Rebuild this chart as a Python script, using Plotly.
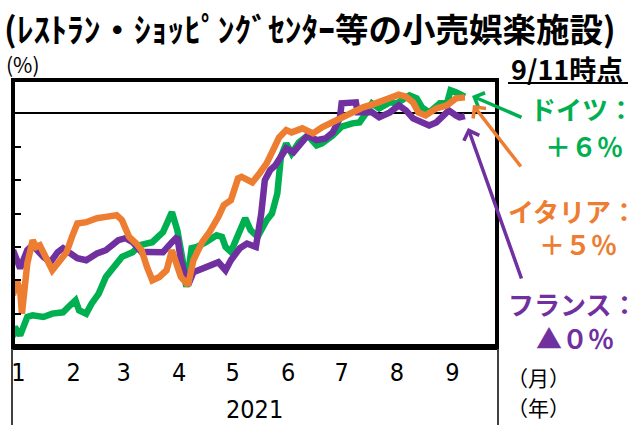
import plotly.graph_objects as go

# ---------------- data ----------------
de_dates = ["2021-01-01","2021-01-02","2021-01-05","2021-01-07","2021-01-09","2021-01-12","2021-01-18",
            "2021-01-23","2021-01-29","2021-02-02","2021-02-05","2021-02-07","2021-02-11","2021-02-14",
            "2021-02-18","2021-02-22","2021-02-26","2021-02-28","2021-03-03","2021-03-09","2021-03-13",
            "2021-03-20","2021-03-26","2021-03-31","2021-04-03","2021-04-06","2021-04-08","2021-04-11",
            "2021-04-14","2021-04-19","2021-04-25","2021-04-28","2021-04-30","2021-05-03","2021-05-08",
            "2021-05-11","2021-05-14","2021-05-18","2021-05-23","2021-05-26","2021-05-29","2021-05-31",
            "2021-06-03","2021-06-06","2021-06-10","2021-06-15","2021-06-20","2021-06-23","2021-06-29",
            "2021-07-04","2021-07-10","2021-07-14","2021-07-18","2021-07-21","2021-07-25","2021-07-31",
            "2021-08-04","2021-08-11","2021-08-15","2021-08-18","2021-08-22","2021-08-28","2021-09-01",
            "2021-09-03","2021-09-06","2021-09-09","2021-09-11"]
de_values = [-67,-64,-66.5,-63,-61,-60.5,-61,-60,-59.6,-57.5,-56,-59,-60,-57,-54,-49,-46,-44.6,-43,-41.6,
             -39.5,-38.6,-35.6,-29.6,-35,-44,-52,-40.4,-40,-38.6,-36.5,-37,-40,-41.5,-35,-31.4,-35,-37,
             -32,-30,-24,-13,-9,-12,-8.7,-6.6,-9.6,-9,-6.6,-4,-3,-2.7,0.3,3,1.5,3.3,3,5.4,4.5,1.8,0.3,3,3,
             6.9,6.3,5.4,5]

it_dates = ["2021-01-01","2021-01-03","2021-01-05","2021-01-06","2021-01-08","2021-01-09","2021-01-12",
            "2021-01-14","2021-01-16","2021-01-19","2021-01-23","2021-01-26","2021-01-31","2021-02-03",
            "2021-02-06","2021-02-11","2021-02-17","2021-02-22","2021-02-28","2021-03-03","2021-03-07",
            "2021-03-11","2021-03-14","2021-03-17","2021-03-20","2021-03-24","2021-03-28","2021-03-31",
            "2021-04-02","2021-04-05","2021-04-09","2021-04-12","2021-04-17","2021-04-21","2021-04-26",
            "2021-04-29","2021-05-03","2021-05-07","2021-05-09","2021-05-15","2021-05-19","2021-05-23",
            "2021-05-26","2021-05-30","2021-06-03","2021-06-06","2021-06-12","2021-06-18","2021-06-23",
            "2021-06-29","2021-07-04","2021-07-10","2021-07-16","2021-07-23","2021-07-31","2021-08-05",
            "2021-08-09","2021-08-13","2021-08-16","2021-08-20","2021-08-26","2021-09-01","2021-09-06",
            "2021-09-11"]
it_values = [-54.5,-50,-53,-60,-50,-45,-38,-40,-39.5,-43,-47,-45,-41.6,-37,-33,-32.6,-31.4,-31,-30.5,-32,
             -37,-39,-41,-46,-50,-49,-47,-41,-44.6,-49,-51.5,-44,-38.5,-35.6,-31,-27.5,-26,-19.5,-19,-20.7,
             -18,-15,-11.7,-7.2,-5,-5.7,-4.5,-6,-4.2,-2.7,-1.2,0.3,1.8,3,4.5,5.6,5,3.3,0.3,-0.6,1.5,2.4,4.5,
             4.8]

fr_dates = ["2021-01-01","2021-01-05","2021-01-09","2021-01-12","2021-01-18","2021-01-22","2021-01-26",
            "2021-01-29","2021-02-06","2021-02-11","2021-02-17","2021-02-22","2021-03-01","2021-03-05",
            "2021-03-09","2021-03-14","2021-03-17","2021-03-26","2021-03-31","2021-04-03","2021-04-05",
            "2021-04-09","2021-04-12","2021-04-19","2021-04-26","2021-04-30","2021-05-03","2021-05-08",
            "2021-05-12","2021-05-17","2021-05-20","2021-05-22","2021-05-25","2021-05-28","2021-06-01",
            "2021-06-03","2021-06-07","2021-06-10","2021-06-15","2021-06-20","2021-06-25","2021-06-29",
            "2021-07-03","2021-07-04","2021-07-10","2021-07-12","2021-07-13","2021-07-18","2021-07-21",
            "2021-07-25","2021-07-31","2021-08-05","2021-08-09","2021-08-13","2021-08-16","2021-08-22",
            "2021-08-26","2021-08-29","2021-09-02","2021-09-06","2021-09-08","2021-09-11"]
fr_values = [-41,-46.4,-41,-39.5,-43,-44.6,-41.6,-40.4,-43.4,-44,-42,-41,-38,-37.4,-38.6,-41.6,-41.5,-41.6,
             -38.6,-37,-44,-51.5,-47.6,-46,-44.6,-47,-44,-40.4,-39,-40,-30,-20,-17,-15.5,-11.7,-10.5,-11.7,
             -9.6,-6.6,-8,-7.5,-5.7,-1.5,3,3,3.3,0.3,0,0.3,-1.2,0.3,2.4,0.9,-1.5,-2.1,-3.6,-2.7,-1.2,0.9,
             -0.6,-1.2,-0.8]

month_ticks = ["2021-01-04","2021-02-04","2021-03-04","2021-04-04","2021-05-04","2021-06-04",
               "2021-07-04","2021-08-04","2021-09-04"]
month_labels = ["1","2","3","4","5","6","7","8","9"]
y_ticks = [-60, -50, -40, -30, -20, -10]

GREEN, ORANGE, PURPLE = "#00B050", "#ED7D31", "#7030A0"

# ---------------- layout helpers ----------------
W, H = 638, 425
L, R, T, B = 13, 141, 80, 78
PW, PH = W - L - R, H - T - B
def px(x): return (x - L) / PW
def py(y): return (H - B - y) / PH

JP = "Noto Sans CJK JP"
NUM = "Liberation Sans Narrow, DejaVu Sans Condensed, Noto Sans CJK JP"

fig = go.Figure()
fig.add_trace(go.Scatter(x=de_dates, y=de_values, mode="lines", line=dict(color=GREEN, width=6.5), name="ドイツ"))
fig.add_trace(go.Scatter(x=fr_dates, y=fr_values, mode="lines", line=dict(color=PURPLE, width=6.5), name="フランス"))
fig.add_trace(go.Scatter(x=it_dates, y=it_values, mode="lines", line=dict(color=ORANGE, width=6.5), name="イタリア"))

ann = []
def text(t, x, y, size, color="black", xanchor="center", bold=False, family=JP):
    ann.append(dict(text=f"<b>{t}</b>" if bold else t, x=px(x), y=py(y), xref="paper", yref="paper",
                    xanchor=xanchor, yanchor="middle", showarrow=False,
                    font=dict(size=size, color=color, family=family)))

text("(ﾚｽﾄﾗﾝ・ｼｮｯﾋﾟﾝｸﾞｾﾝﾀｰ等の小売娯楽施設)", 2, 28, 33.5, bold=True, xanchor="left")
text("(%)", 4, 64, 21, xanchor="left")
text("9/11時点", 567, 69, 27, bold=True)
text("ドイツ：", 582, 108, 26, GREEN, bold=True)
text("＋６％", 584, 145, 26, GREEN, bold=True)
text("イタリア：", 572, 210, 26, ORANGE, bold=True)
text("＋５％", 578, 244, 26, ORANGE, bold=True)
text("フランス：", 572, 303, 26, PURPLE, bold=True)
text("▲０％", 575, 337, 26, PURPLE, bold=True)
text("（月）", 538, 377, 21)
text("（年）", 538, 407, 21)
text("2021", 254, 409, 25, family=NUM)

def arrow(hx, hy, tx, ty, color):
    ann.append(dict(text="", x=px(hx), y=py(hy), xref="paper", yref="paper",
                    ax=tx - hx, ay=ty - hy, showarrow=True, arrowhead=4, arrowsize=0.9,
                    arrowwidth=3.5, arrowcolor=color))
arrow(472, 96, 523, 118, GREEN)
arrow(473, 105, 522, 168, ORANGE)
arrow(468, 128, 522, 280, PURPLE)

shapes = [
    dict(type="rect", xref="paper", yref="paper", x0=0, x1=1, y0=0, y1=1, line=dict(color="black", width=4)),
    dict(type="line", xref="paper", yref="paper", x0=0, x1=1, y0=0, y1=0, line=dict(color="black", width=6)),
    dict(type="line", xref="paper", yref="paper", x0=px(12), x1=px(12), y0=0, y1=py(425), line=dict(color="black", width=1.5)),
    dict(type="line", xref="paper", yref="paper", x0=px(498), x1=px(498), y0=0, y1=py(425), line=dict(color="black", width=1.5)),
    dict(type="line", xref="paper", yref="paper", x0=px(508), x1=px(628), y0=py(83), y1=py(83), line=dict(color="black", width=2)),
]

fig.update_layout(
    width=W, height=H, margin=dict(l=L, r=R, t=T, b=B),
    paper_bgcolor="white", plot_bgcolor="white", showlegend=False,
    annotations=ann, shapes=shapes,
    xaxis=dict(type="date", range=["2021-01-01", "2021-09-29"], tickvals=month_ticks, ticktext=month_labels,
               showgrid=False, zeroline=False, ticks="", ticklabelstandoff=8,
               tickfont=dict(family=NUM, size=25, color="black")),
    yaxis=dict(range=[-70, 10], tickvals=y_ticks, showticklabels=False, showgrid=False,
               ticks="inside", ticklen=8, tickwidth=2, tickcolor="black",
               zeroline=True, zerolinecolor="black", zerolinewidth=2),
)
fig.write_html("out.html", config={"displayModeBar": False},
               post_script="document.body.style.margin='0px';document.body.style.overflow='hidden';")
